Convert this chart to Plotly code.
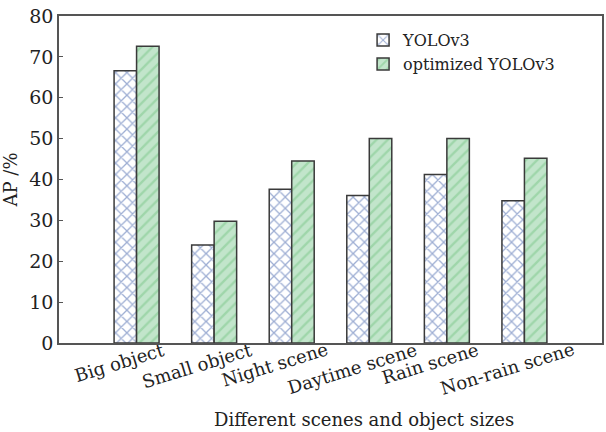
import plotly.graph_objects as go

categories = ["Big object", "Small object", "Night scene", "Daytime scene",
              "Rain scene", "Non-rain scene"]
yolov3_ap = [66.6, 24.0, 37.6, 36.1, 41.2, 34.8]
optimized_ap = [72.6, 29.8, 44.5, 50.0, 50.0, 45.2]
y_ticks = [0, 10, 20, 30, 40, 50, 60, 70, 80]

FONT = "DejaVu Serif"
EDGE = "#3a3a3a"
TEXT = "#222222"

fig = go.Figure()
fig.add_trace(go.Bar(
    x=categories, y=yolov3_ap, name="YOLOv3",
    marker=dict(
        color="white",
        line=dict(color=EDGE, width=1.5),
        pattern=dict(shape="x", fgcolor="#3d5ea8", bgcolor="white",
                     size=8, solidity=0.3, fillmode="overlay"),
    ),
))
fig.add_trace(go.Bar(
    x=categories, y=optimized_ap, name="optimized YOLOv3",
    marker=dict(
        color="#c2e5cb",
        line=dict(color=EDGE, width=1.5),
        pattern=dict(shape="/", fgcolor="#7cc78a", bgcolor="#c2e5cb",
                     size=8, solidity=0.3, fillmode="overlay"),
    ),
))

# Rotated category labels, centred a little left of each tick
annotations = [
    dict(text=c, x=c, xref="x", y=0, yref="paper", xanchor="center",
         yanchor="top", xshift=-17, yshift=7, textangle=-17, showarrow=False,
         font=dict(size=18, family=FONT, color=TEXT))
    for c in categories
]
annotations.append(dict(
    text="Different scenes and object sizes", x=0.561, xref="paper",
    y=-0.235, yref="paper", xanchor="center", yanchor="middle",
    showarrow=False, font=dict(size=18, family=FONT, color=TEXT)))

fig.update_layout(
    width=606, height=432,
    margin=dict(l=59, r=2, t=16, b=89),
    paper_bgcolor="white", plot_bgcolor="white",
    barmode="group", bargap=0.42, bargroupgap=0,
    font=dict(family=FONT, size=18, color=TEXT),
    showlegend=True,
    legend=dict(x=0.56, y=0.978, xanchor="left", yanchor="top",
                bgcolor="rgba(0,0,0,0)", font=dict(size=16, family=FONT),
                itemwidth=30, tracegroupgap=0),
    annotations=annotations,
    xaxis=dict(
        range=[-1, 6], showticklabels=False, showline=True,
        linecolor="#555555", linewidth=1.5, mirror=True, ticks="",
        showgrid=False,
    ),
    yaxis=dict(
        range=[0, 80], tickvals=y_ticks, showline=True, linecolor="#555555",
        linewidth=1.5, mirror=True, ticks="inside", ticklen=4,
        tickcolor="#555555", showgrid=False, zeroline=False,
        tickfont=dict(size=19, family=FONT),
        title=dict(text="AP /%", font=dict(size=18, family=FONT), standoff=7),
    ),
)

fig.write_html("out.html")
